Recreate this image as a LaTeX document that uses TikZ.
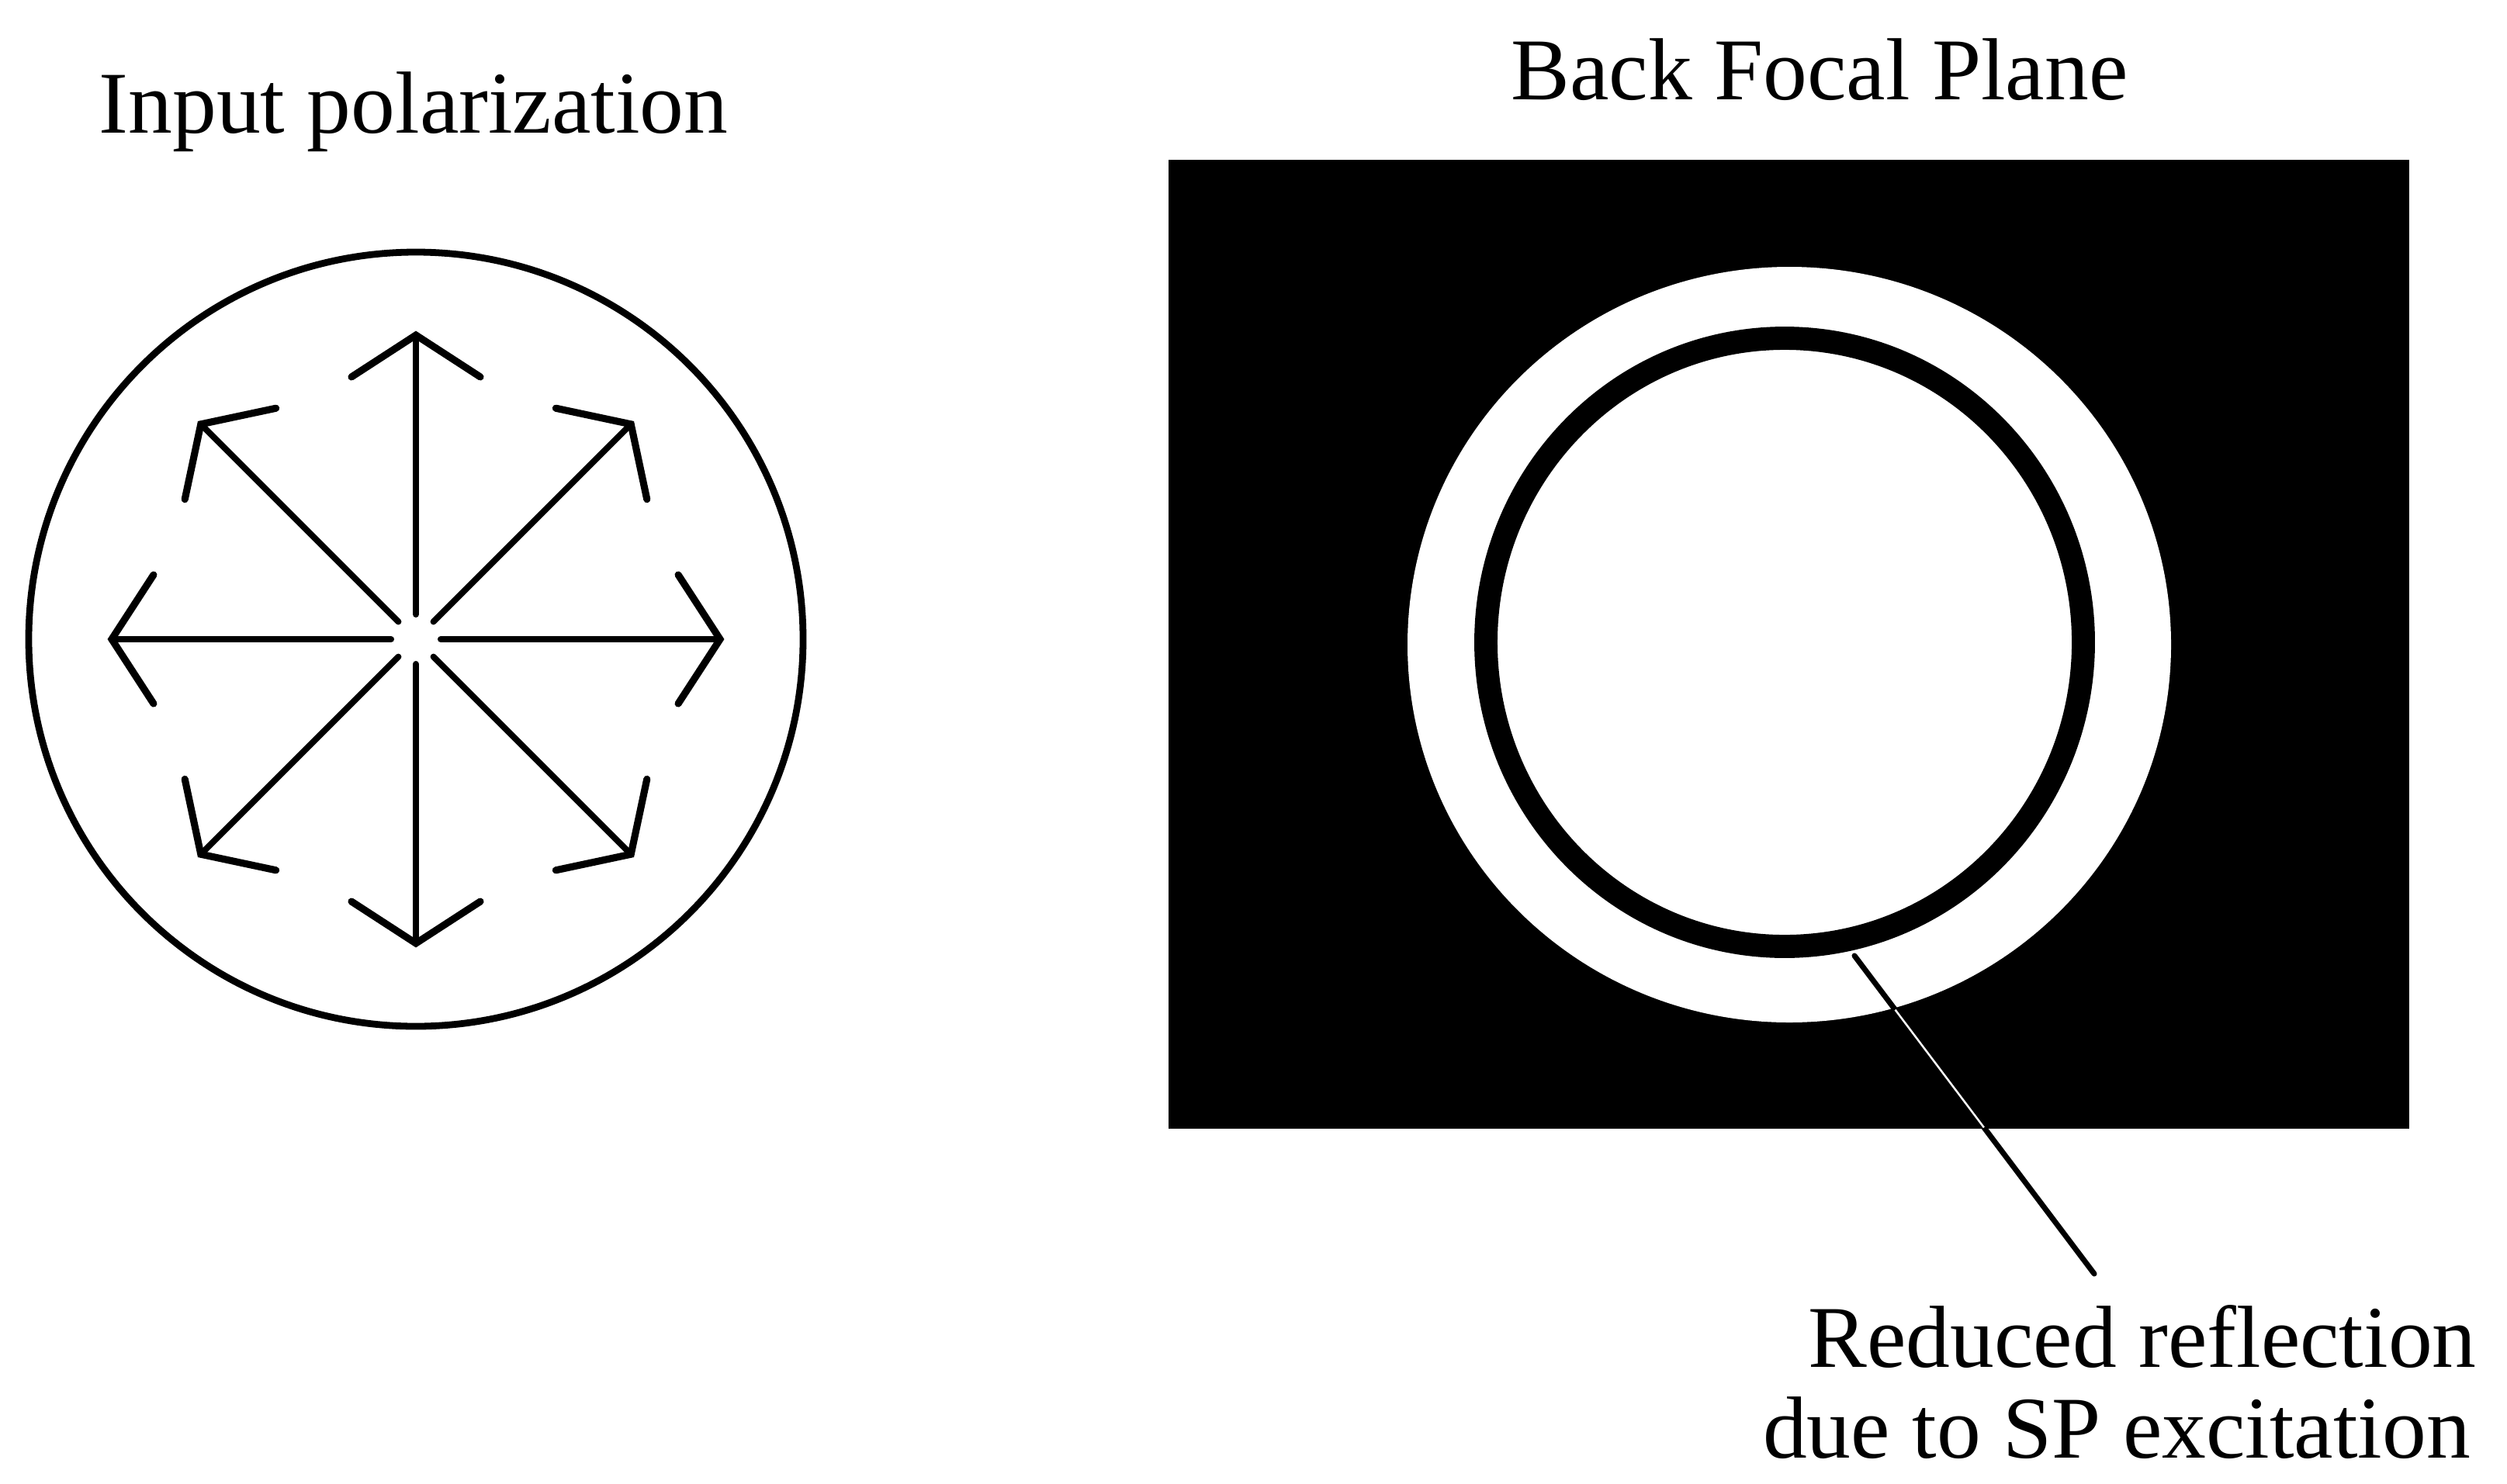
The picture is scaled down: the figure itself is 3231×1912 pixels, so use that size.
\documentclass[tikz,border=0pt]{standalone}
\usepackage{fontspec}
\setmainfont{Liberation Serif}
\usetikzlibrary{calc}
\begin{document}
\begin{tikzpicture}[x=0.01cm,y=-0.01cm,
  lbl/.style={inner sep=0pt,anchor=base,font=\fontsize{32.3}{34}\selectfont},
  shaft/.style={line width=2.3pt,line cap=round},
  barb/.style={line width=2.6pt,line cap=round,line join=miter}]
\useasboundingbox (0,0) rectangle (3231,1912);
% titles
\node[lbl] (tin) at (533,171) {Input polarization};
\node[lbl] (tbfp) at (2345,128) {Back Focal Plane};
% left: input polarization
\coordinate (c) at (536,824);
\draw[line width=2.5pt] (c) circle[radius=499];
\foreach \a in {0,45,...,315}{
  \draw[shaft] ($(c)+(\a:32)$) -- ($(c)+(\a:392)$);
  \draw[barb] ($(c)+(\a:392)+(\a+180-57:99)$) -- ($(c)+(\a:392)$) -- ($(c)+(\a:392)+(\a+180+57:99)$);
}
% right: back focal plane
\fill[black] (1506,206) rectangle (3105,1455);
\fill[white] (2306,831) ellipse[x radius=492,y radius=487];
\draw[line width=8.5pt] (2300,828) ellipse[x radius=385,y radius=392];
\coordinate (ls) at (2390,1232);
\coordinate (le) at (2699,1642);
\draw[line width=2pt,line cap=round] (ls) -- (le);
\draw[white,line width=0.7pt] ($(ls)!0.17!(le)$) -- ($(ls)!0.54!(le)$);
\node[lbl] (r1) at (2761,1762) {Reduced reflection};
\node[lbl] (r2) at (2728,1879) {due to SP excitation};
\end{tikzpicture}
\end{document}
